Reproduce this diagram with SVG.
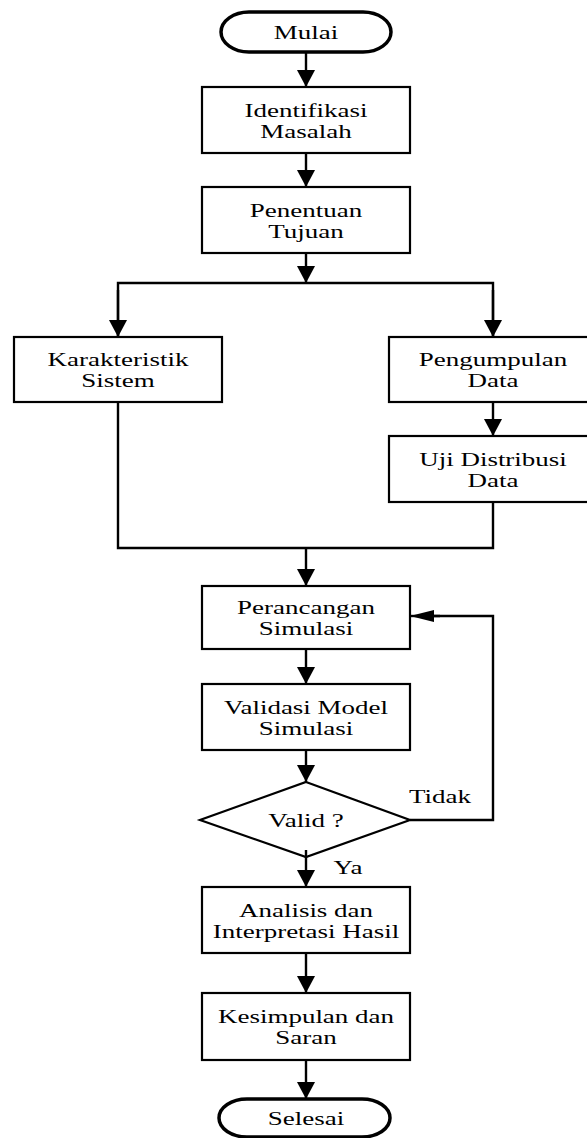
<svg xmlns="http://www.w3.org/2000/svg" width="587" height="1138" viewBox="0 0 587 1138">
<style>
.box{fill:#fff;stroke:#000;stroke-width:2.2}
.term{fill:#fff;stroke:#000;stroke-width:3.5}
.t{font-family:"Liberation Serif","Times New Roman",serif;font-size:19px;fill:#000;text-anchor:middle}
.ln{fill:none;stroke:#000;stroke-width:2.4}
</style>
<defs>
<marker id="ad" markerUnits="userSpaceOnUse" markerWidth="18" markerHeight="18" refX="17" refY="9" orient="auto" viewBox="0 0 17 18">
<path d="M0,0 L17,9 L0,18 z" fill="#000"/>
</marker>
<marker id="al" markerUnits="userSpaceOnUse" markerWidth="24" markerHeight="12" refX="24" refY="6" orient="auto" viewBox="0 0 24 12">
<path d="M0,0 L24,6 L0,12 z" fill="#000"/>
</marker>
</defs>
<g id="connectors">
<line class="ln" x1="306" y1="52" x2="306" y2="87" marker-end="url(#ad)"/>
<line class="ln" x1="306" y1="153" x2="306" y2="187" marker-end="url(#ad)"/>
<line class="ln" x1="306" y1="253" x2="306" y2="283" marker-end="url(#ad)"/>
<polyline class="ln" points="118,337 118,283 493,283 493,337"/>
<line class="ln" x1="118" y1="290" x2="118" y2="337" marker-end="url(#ad)"/>
<line class="ln" x1="493" y1="290" x2="493" y2="337" marker-end="url(#ad)"/>
<line class="ln" x1="493" y1="402" x2="493" y2="436" marker-end="url(#ad)"/>
<polyline class="ln" points="118,402 118,548 493,548 493,502"/>
<line class="ln" x1="306" y1="548" x2="306" y2="586" marker-end="url(#ad)"/>
<line class="ln" x1="306" y1="649" x2="306" y2="684" marker-end="url(#ad)"/>
<line class="ln" x1="306" y1="750" x2="306" y2="782" marker-end="url(#ad)"/>
<polyline class="ln" points="410,820 493,820 493,616 430,616"/>
<line class="ln" x1="440" y1="616" x2="410" y2="616" marker-end="url(#al)"/>
<line class="ln" x1="306" y1="850" x2="306" y2="887" marker-end="url(#ad)"/>
<line class="ln" x1="306" y1="953" x2="306" y2="993" marker-end="url(#ad)"/>
<line class="ln" x1="306" y1="1060" x2="306" y2="1099" marker-end="url(#ad)"/>
<text class="t" transform="translate(440,803) scale(1.42,1)">Tidak</text>
<text class="t" transform="translate(348,874) scale(1.42,1)">Ya</text>
</g>
<g id="mulai">
<rect class="term" x="221" y="12" width="170" height="40" rx="28" ry="20"/>
<text class="t" transform="translate(306,39) scale(1.42,1)">Mulai</text>
</g>
<g id="identifikasi">
<rect class="box" x="202" y="87" width="208" height="66"/>
<text class="t" transform="translate(306,117) scale(1.42,1)">Identifikasi</text>
<text class="t" transform="translate(306,138) scale(1.42,1)">Masalah</text>
</g>
<g id="penentuan">
<rect class="box" x="202" y="187" width="208" height="66"/>
<text class="t" transform="translate(306,217) scale(1.42,1)">Penentuan</text>
<text class="t" transform="translate(306,238) scale(1.42,1)">Tujuan</text>
</g>
<g id="karakteristik">
<rect class="box" x="14" y="337" width="208" height="65"/>
<text class="t" transform="translate(118,366) scale(1.42,1)">Karakteristik</text>
<text class="t" transform="translate(118,387) scale(1.42,1)">Sistem</text>
</g>
<g id="pengumpulan">
<rect class="box" x="389" y="337" width="208" height="65"/>
<text class="t" transform="translate(493,366) scale(1.42,1)">Pengumpulan</text>
<text class="t" transform="translate(493,387) scale(1.42,1)">Data</text>
</g>
<g id="uji">
<rect class="box" x="389" y="436" width="208" height="66"/>
<text class="t" transform="translate(493,466) scale(1.42,1)">Uji Distribusi</text>
<text class="t" transform="translate(493,487) scale(1.42,1)">Data</text>
</g>
<g id="perancangan">
<rect class="box" x="202" y="586" width="208" height="63"/>
<text class="t" transform="translate(306,614) scale(1.42,1)">Perancangan</text>
<text class="t" transform="translate(306,635) scale(1.42,1)">Simulasi</text>
</g>
<g id="validasi">
<rect class="box" x="202" y="684" width="208" height="66"/>
<text class="t" transform="translate(306,714) scale(1.42,1)">Validasi Model</text>
<text class="t" transform="translate(306,735) scale(1.42,1)">Simulasi</text>
</g>
<g id="valid">
<polygon class="box" points="306,782 410,820 306,857 200,820"/>
<text class="t" transform="translate(306,827) scale(1.42,1)">Valid ?</text>
</g>
<line class="ln" x1="306" y1="850" x2="306" y2="858"/>
<g id="analisis">
<rect class="box" x="202" y="887" width="208" height="66"/>
<text class="t" transform="translate(306,917) scale(1.42,1)">Analisis dan</text>
<text class="t" transform="translate(306,938) scale(1.42,1)">Interpretasi Hasil</text>
</g>
<g id="kesimpulan">
<rect class="box" x="202" y="993" width="208" height="67"/>
<text class="t" transform="translate(306,1023) scale(1.42,1)">Kesimpulan dan</text>
<text class="t" transform="translate(306,1044) scale(1.42,1)">Saran</text>
</g>
<g id="selesai">
<rect class="term" x="219" y="1099" width="171" height="38" rx="28" ry="19"/>
<text class="t" transform="translate(306,1125) scale(1.42,1)">Selesai</text>
</g>
</svg>
